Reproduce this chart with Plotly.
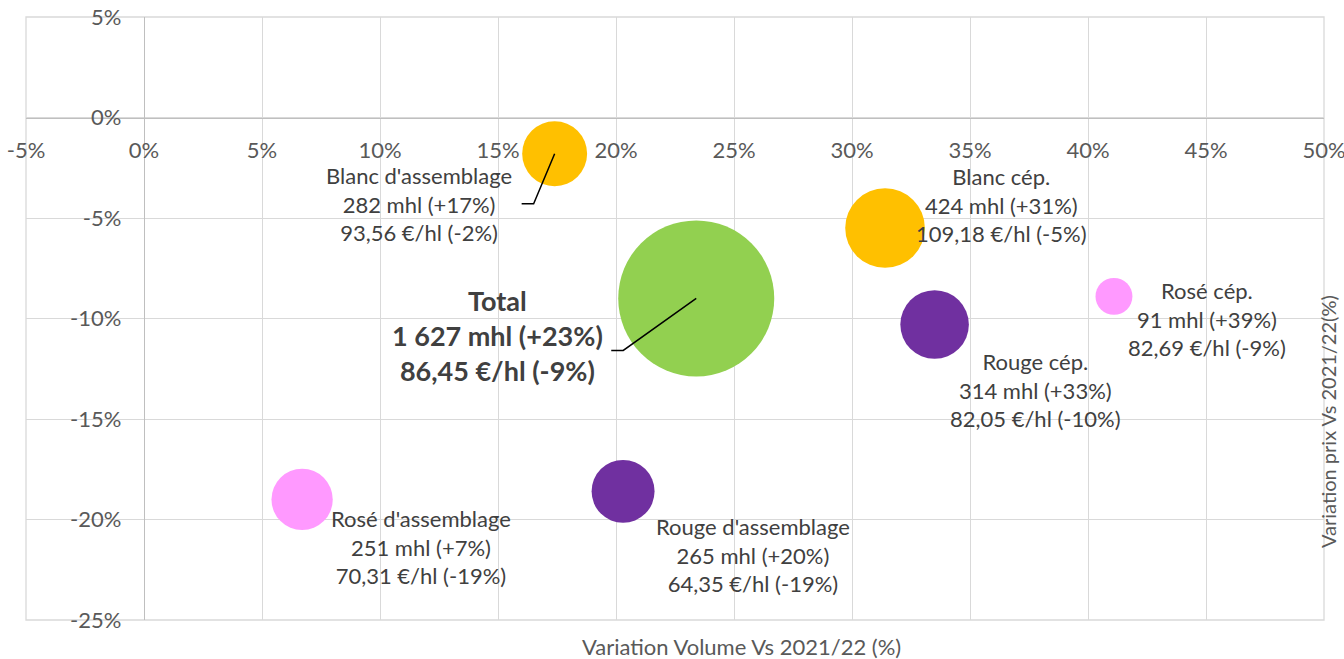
import plotly.graph_objects as go

# ---- data ----
names = ["Blanc d'assemblage", "Blanc cép.", "Total", "Rouge cép.", "Rosé cép.",
         "Rosé d'assemblage", "Rouge d'assemblage"]
vol_var = [17.4, 31.4, 23.4, 33.5, 41.1, 6.7, 20.3]        # x: variation volume (%)
price_var = [-1.8, -5.5, -9.0, -10.3, -8.9, -19.0, -18.6]   # y: variation prix (%)
volumes = [282, 424, 1627, 314, 91, 251, 265]               # mhl (bubble size)
vol_label_var = [17, 31, 23, 33, 39, 7, 20]
prices = [93.56, 109.18, 86.45, 82.05, 82.69, 70.31, 64.35]  # €/hl
price_label_var = [-2, -5, -9, -10, -9, -19, -19]
colors = ["#FFC000", "#FFC000", "#92D050", "#7030A0", "#FF99FF", "#FF99FF", "#7030A0"]

x_ticks = list(range(-5, 51, 5))
y_ticks = list(range(-25, 6, 5))

# ---- style / layout positions ----
label_offsets = [(-136, -50), (116, 23), (-199, -37), (101, -65), (93, -23), (119, -48), (130, -64)]
leader_paths = {0: "M0,0 L-21,-50 L-33,-50", 2: "M0,0 L-73,-52 L-85,-52"}
FONT = "Lato"
GRID = "#D9D9D9"
AXIS = "#BFBFBF"
TXT = "#595959"
LBL = "#404040"
max_diam = 156


def fmt_vol(v):
    return f"{v:,}".replace(",", "\u00a0")


def fmt_price(p):
    return f"{p:.2f}".replace(".", ",")


def fmt_pct(p):
    return f"+{p}%" if p > 0 else f"{p}%"


fig = go.Figure()
fig.add_trace(go.Scatter(
    x=vol_var, y=price_var, mode="markers",
    marker=dict(size=volumes, sizemode="area",
                sizeref=2 * max(volumes) / max_diam ** 2,
                color=colors, opacity=1, line=dict(width=0)),
    hoverinfo="skip", showlegend=False, cliponaxis=False,
))

annotations = []
for i, n in enumerate(names):
    txt = (f"{n}<br>{fmt_vol(volumes[i])} mhl ({fmt_pct(vol_label_var[i])})"
           f"<br>{fmt_price(prices[i])} €/hl ({fmt_pct(price_label_var[i])})")
    bold = (n == "Total")
    if bold:
        txt = "<b>" + txt + "</b>"
    dx, dy = label_offsets[i]
    annotations.append(dict(
        x=vol_var[i], y=price_var[i], xref="x", yref="y", text=txt, showarrow=False,
        xshift=dx, yshift=dy, xanchor="center", yanchor="middle", align="center",
        font=dict(family=FONT, size=27 if bold else 22, color=LBL),
    ))

annotations.append(dict(
    x=(741 - 26) / 1298, y=(620 - 646) / 603, xref="paper", yref="paper",
    text="Variation Volume Vs 2021/22 (%)", showarrow=False,
    xanchor="center", yanchor="middle", font=dict(family=FONT, size=22, color=TXT)))
annotations.append(dict(
    x=(1328 - 26) / 1298, y=(620 - 422) / 603, xref="paper", yref="paper",
    text="Variation prix Vs 2021/22(%)", showarrow=False, textangle=-90,
    xanchor="center", yanchor="middle", font=dict(family=FONT, size=20, color=TXT)))

shapes = []
for i, p in leader_paths.items():
    shapes.append(dict(type="path", xref="x", yref="y", xsizemode="pixel", ysizemode="pixel",
                       xanchor=vol_var[i], yanchor=price_var[i], path=p,
                       line=dict(color="black", width=1.5)))
# plot frame (edge gridlines)
shapes.append(dict(type="rect", xref="paper", yref="paper", x0=0, x1=1, y0=0, y1=1,
                   line=dict(color=GRID, width=1.3), layer="below"))

x_range = [min(x_ticks), max(x_ticks)]
y_range = [min(y_ticks), max(y_ticks)]

fig.update_layout(
    width=1344, height=659,
    margin=dict(l=26, r=20, t=17, b=39, autoexpand=False),
    paper_bgcolor="white", plot_bgcolor="white",
    font=dict(family=FONT, color=TXT),
    xaxis=dict(range=x_range, tickvals=x_ticks, ticktext=[f"{t}%" for t in x_ticks],
               showgrid=True, gridcolor=GRID, gridwidth=1.3, zeroline=False,
               showline=True, linecolor=AXIS, linewidth=1.3,
               anchor="free", position=(0 - y_range[0]) / (y_range[1] - y_range[0]),
               ticks="", ticklabelstandoff=13, automargin=False, ticklabeloverflow="allow",
               tickfont=dict(family=FONT, size=22, color=TXT)),
    yaxis=dict(range=y_range, tickvals=y_ticks, ticktext=[f"{t}%" for t in y_ticks],
               showgrid=True, gridcolor=GRID, gridwidth=1.3, zeroline=False,
               showline=True, linecolor=AXIS, linewidth=1.3,
               anchor="free", position=(0 - x_range[0]) / (x_range[1] - x_range[0]),
               ticks="", ticklabelstandoff=18, automargin=False, ticklabeloverflow="allow",
               tickfont=dict(family=FONT, size=22, color=TXT)),
    annotations=annotations,
    shapes=shapes,
)

fig.write_html("out.html", config={"displayModeBar": False},
               post_script="document.body.style.margin='0';document.body.style.overflow='hidden';")
